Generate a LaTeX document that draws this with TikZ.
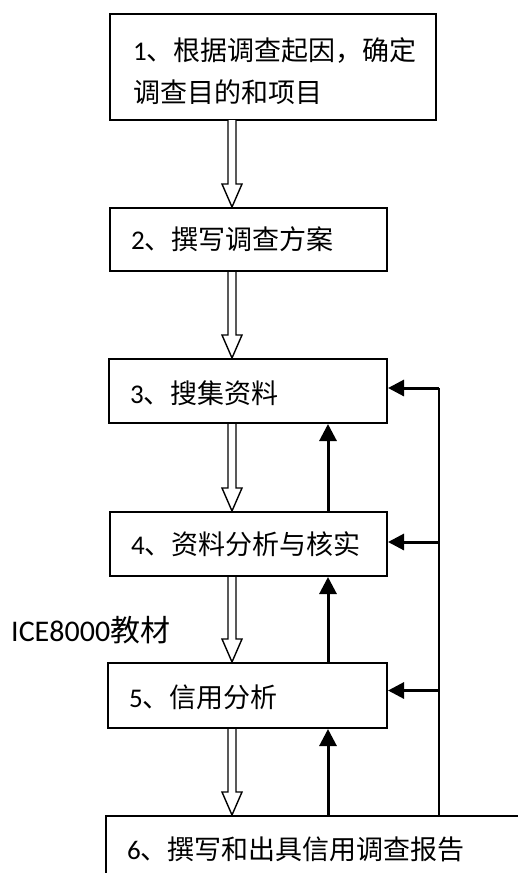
\documentclass[tikz,border=0pt]{standalone}
\usepackage{fontspec}
\setmainfont{Carlito}
\newfontfamily\cjk{Noto Sans CJK SC}
\usetikzlibrary{arrows.meta,calc}
\newcommand\hollowarrow[2]{\draw[hol] let \p1=(#1), \p2=(#2) in
  (\x1-4pt,\y1) -- (\x1-4pt,\y2+23pt) -- (\x1-10pt,\y2+23pt) -- (\x2,\y2)
  -- (\x1+10pt,\y2+23pt) -- (\x1+4pt,\y2+23pt) -- (\x1+4pt,\y1);}
\begin{document}
\begin{tikzpicture}[x=1pt,y=-1pt,
  box/.style={draw,line width=2pt,inner sep=0pt},
  txt/.style={anchor=west,inner sep=0pt,align=left,font=\fontsize{27}{42}\selectfont},
  hol/.style={draw=black,fill=white,line width=1.4pt,line join=miter},
  up/.style={line width=3pt,-{Triangle[length=17pt,width=17pt]}},
  fb/.style={line width=3pt,-{Triangle[length=16pt,width=16pt]}},
  vline/.style={line width=2pt}]
\useasboundingbox (0,0) rectangle (518,873);
\clip (0,0) rectangle (518,873);
\fill[white] (0,0) rectangle (518,873);
\coordinate (ax) at (232,0);
\coordinate (ux) at (328,0);
\coordinate (rx) at (439,0);
% boxes
\draw[box] (110,14) rectangle (436,120);
\node[inner sep=0pt,minimum width=326pt,minimum height=106pt] (b1) at (273,67) {};
\node[box,minimum width=277pt,minimum height=63pt] (b2) at (248.5,239.5) {};
\node[box,minimum width=278pt,minimum height=64pt] (b3) at (248,391) {};
\node[box,minimum width=277pt,minimum height=64pt] (b4) at (248.5,544) {};
\node[box,minimum width=279pt,minimum height=65pt] (b5) at (247.5,695.5) {};
\node[box,minimum width=454pt,minimum height=84pt] (b6) at (333,858) {};
% texts
\node[txt] (t1) at ($(b1.west)+(23,4)$) {1{\cjk 、根据调查起因，确定}\\{\cjk 调查目的和项目}};
\node[txt] (t2) at ($(b2.west)+(22,0)$) {2{\cjk 、撰写调查方案}};
\node[txt] (t3) at ($(b3.west)+(22,2)$) {3{\cjk 、搜集资料}};
\node[txt] (t4) at ($(b4.west)+(22,0)$) {4{\cjk 、资料分析与核实}};
\node[txt] (t5) at ($(b5.west)+(22,2)$) {5{\cjk 、信用分析}};
\node[txt] (t6) at ($(b6.north west)+(22,34)$) {6{\cjk 、撰写和出具信用调查报告}};
\node[anchor=west,inner sep=0pt,font=\fontsize{30}{36}\selectfont] (lab) at (11,630) {ICE8000{\cjk 教材}};
% hollow down arrows
\hollowarrow{b1.south -| ax}{b2.north -| ax}
\hollowarrow{b2.south -| ax}{b3.north -| ax}
\hollowarrow{b3.south -| ax}{b4.north -| ax}
\hollowarrow{b4.south -| ax}{b5.north -| ax}
\hollowarrow{b5.south -| ax}{b6.north -| ax}
% up arrows
\draw[up] (b4.north -| ux) -- (b3.south -| ux);
\draw[up] (b5.north -| ux) -- (b4.south -| ux);
\draw[up] (b6.north -| ux) -- (b5.south -| ux);
% feedback
\coordinate (f3) at ($(b3.east)+(0,-3)$);
\coordinate (f4) at ($(b4.east)+(0,-2)$);
\coordinate (f5) at ($(b5.east)+(0,-5)$);
\draw[vline] (b6.north -| rx) -- (f3 -| rx);
\draw[fb] (f3 -| rx) -- (f3);
\draw[fb] (f4 -| rx) -- (f4);
\draw[fb] (f5 -| rx) -- (f5);
\end{tikzpicture}
\end{document}
